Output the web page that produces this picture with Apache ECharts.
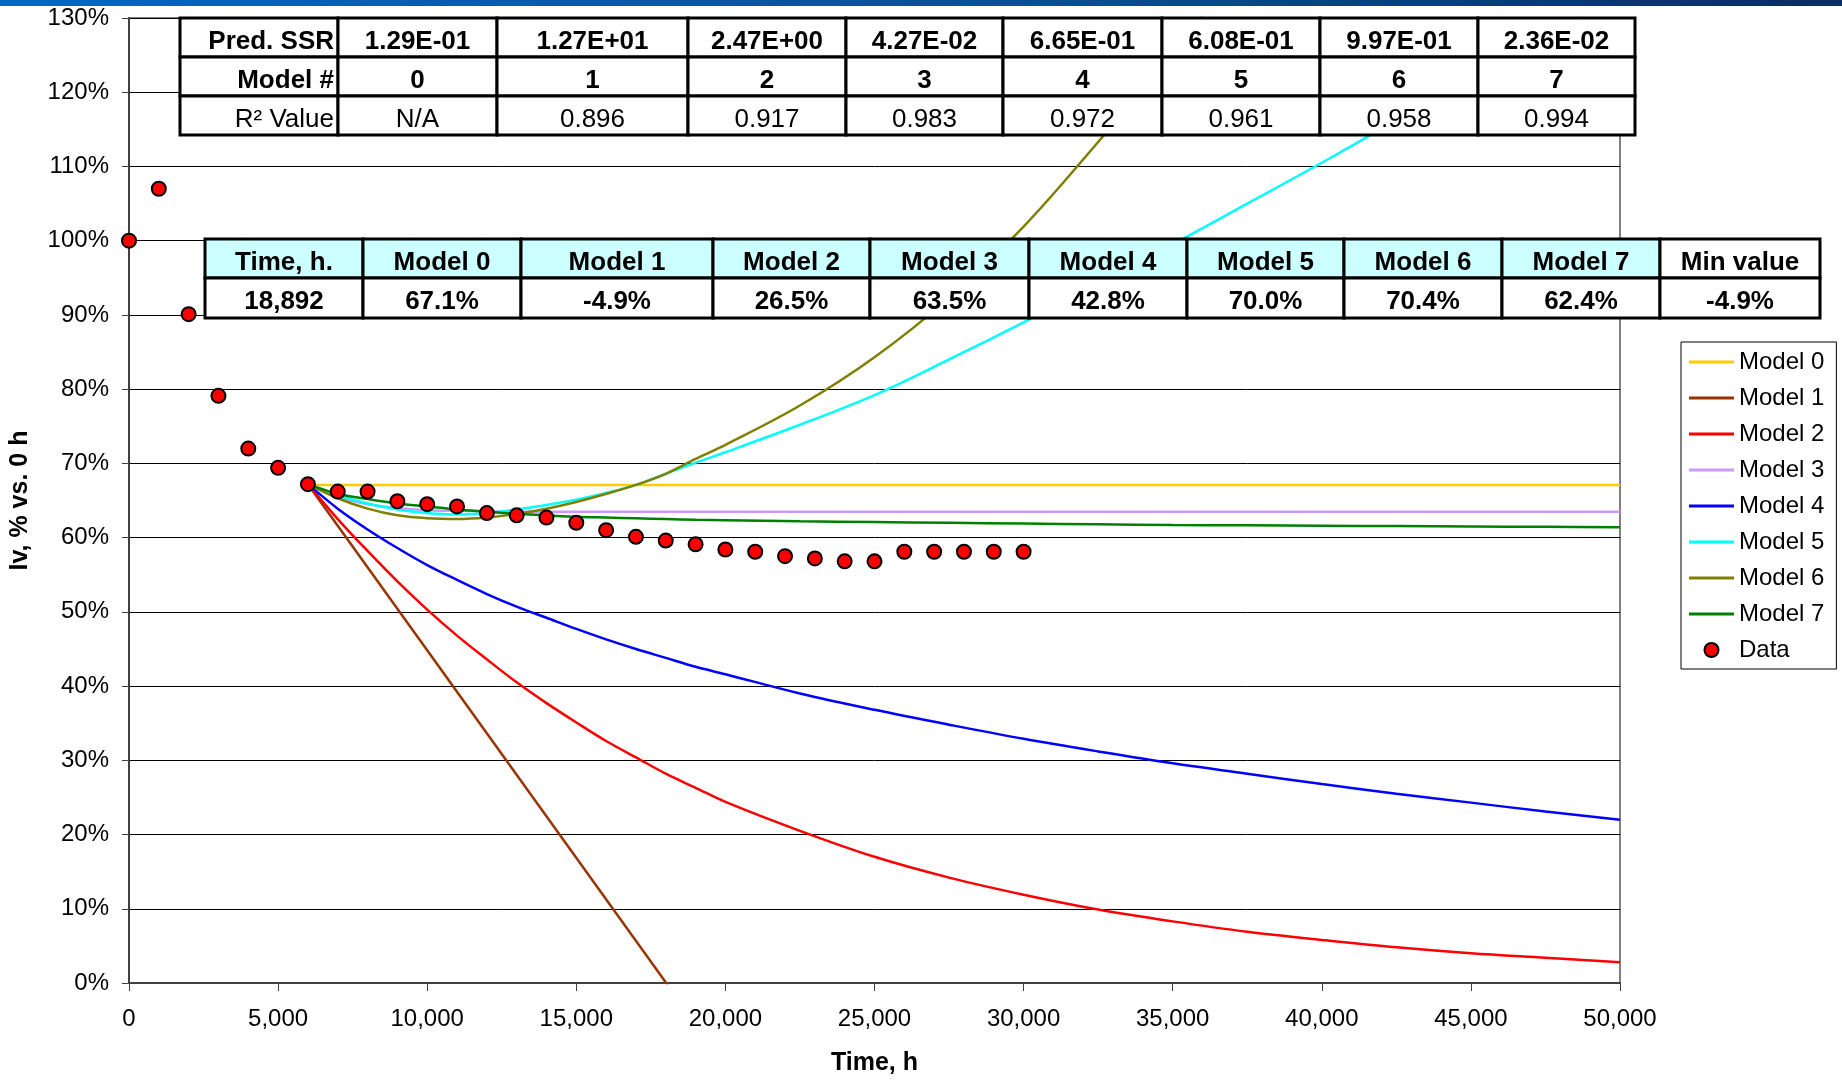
<!DOCTYPE html>
<html>
<head>
<meta charset="utf-8">
<script src="https://cdn.jsdelivr.net/npm/echarts@6/dist/echarts.min.js"></script>
<style>html,body{margin:0;padding:0;background:#fff}#c{width:1842px;height:1081px}</style>
</head>
<body>
<div id="c"></div>
<script>
// ---------- DATA ----------
const dataTimes = [0,1000,2000,3000,4000,5000,6000,7000,8000,9000,10000,11000,12000,13000,14000,15000,16000,17000,18000,19000,20000,21000,22000,23000,24000,25000,26000,27000,28000,29000,30000];
const dataValues = [100,107,90.1,79.1,72.0,69.4,67.2,66.2,66.2,64.9,64.5,64.2,63.3,63.0,62.7,62.0,61.0,60.1,59.6,59.1,58.4,58.1,57.5,57.2,56.8,56.8,58.1,58.1,58.1,58.1,58.1];

const modelTimes = [6000,7000,8000,9000,10000,11000,12000,13000,14000,15000,16000,17000,18000,19000,20000,22500,25000,27500,30000,32500,35000,37500,40000,42500,45000,47500,50000];
const model0Times = [6000, 50000];
const model0 = [67.1, 67.1];
const model1Times = [6000, 18892];
const model1 = [67.2, -4.9];
const model2 = [67.2,62.5,58.2,54.1,50.3,46.8,43.6,40.5,37.7,35.1,32.6,30.4,28.2,26.3,24.4,20.5,17.0,14.2,11.9,9.9,8.3,6.9,5.8,4.8,4.0,3.4,2.8];
const model3 = [67.2,65.5,64.5,64.0,63.7,63.6,63.55,63.5,63.5,63.5,63.5,63.5,63.5,63.5,63.5,63.5,63.5,63.5,63.5,63.5,63.5,63.5,63.5,63.5,63.5,63.5,63.5];
const model4 = [67.2,63.9,61.1,58.6,56.3,54.3,52.4,50.7,49.2,47.7,46.3,45.0,43.8,42.6,41.6,39.0,36.8,34.8,32.9,31.2,29.6,28.2,26.8,25.5,24.3,23.1,22.0];
const model5 = [67.2,65.7,64.6,63.8,63.3,63.1,63.3,63.8,64.4,65.1,66.0,67.1,68.6,70.1,71.5,75.2,79.2,84.0,89.0,94.2,99.5,105.0,110.5,116.2,121.9,127.7,133.6];
const model6 = [67.2,65.3,63.9,63.0,62.6,62.5,62.7,63.2,63.9,64.8,65.9,67.1,68.6,70.6,72.5,77.8,84.3,92.3,101.9,113.3,125.3,138.5,153.0,null,null,null,null];
const model7 = [67.2,65.9,65.2,64.6,64.2,63.8,63.5,63.2,63.0,62.8,62.7,62.6,62.5,62.4,62.35,62.2,62.1,62.0,61.9,61.8,61.7,61.65,61.6,61.55,61.5,61.45,61.4];

const seriesNames = ['Model 0','Model 1','Model 2','Model 3','Model 4','Model 5','Model 6','Model 7','Data'];

const topTable = [
  ['Pred. SSR','1.29E-01','1.27E+01','2.47E+00','4.27E-02','6.65E-01','6.08E-01','9.97E-01','2.36E-02'],
  ['Model #','0','1','2','3','4','5','6','7'],
  ['R² Value','N/A','0.896','0.917','0.983','0.972','0.961','0.958','0.994']
];
const minTableHead = ['Time, h.','Model 0','Model 1','Model 2','Model 3','Model 4','Model 5','Model 6','Model 7','Min value'];
const minTableVals = ['18,892','67.1%','-4.9%','26.5%','63.5%','42.8%','70.0%','70.4%','62.4%','-4.9%'];

// ---------- LAYOUT / STYLE ----------
const FONT = "'Liberation Sans', Arial, sans-serif";
const colors = ['#ffcc00','#993300','#ff0000','#cc99ff','#0000ff','#00ffff','#808000','#008000'];
const topColX = [180,338,497,688,846,1003,1162,1320,1478,1635];
const topRowY = [18,57,96,135];
const minColX = [205,363,521,713,870,1029,1187,1344,1502,1660,1820];
const minRowY = [239,278,318];

function zip(xs, ys){ return xs.map((x,i)=>[x, ys[i]]); }

const modelData = [
  zip(model0Times, model0), zip(model1Times, model1), zip(modelTimes, model2), zip(modelTimes, model3),
  zip(modelTimes, model4), zip(modelTimes, model5), zip(modelTimes, model6), zip(modelTimes, model7)
];

const series = modelData.map((d,i)=>({
  name: seriesNames[i], type:'line', data:d, symbol:'none', smooth:0.35,
  lineStyle:{color:colors[i], width:2.5}, itemStyle:{color:colors[i]}, clip:true, z:2
}));
series.push({
  name:'Data', type:'scatter', data: zip(dataTimes, dataValues), symbol:'circle', symbolSize:14,
  itemStyle:{color:'#ff0000', borderColor:'#000', borderWidth:2, opacity:1}, z:5
});

const legendData = seriesNames.map((n,i)=> i<8 ? {name:n, icon:'path://M0,0H45V3H0Z'} : {name:n, icon:'circle'});

const graphics = [];
graphics.push({type:'rect', z:200, shape:{x:0,y:0,width:1842,height:6},
  style:{fill:new echarts.graphic.LinearGradient(0,0,1,0,[{offset:0,color:'#0068c8'},{offset:0.55,color:'#0a4f9a'},{offset:1,color:'#0b2d5f'}])}});

// top table
for (let r=0;r<3;r++){
  for (let c=0;c<9;c++){
    const x0=topColX[c], x1=topColX[c+1], y0=topRowY[r], y1=topRowY[r+1];
    graphics.push({type:'rect', z:100, shape:{x:x0,y:y0,width:x1-x0,height:y1-y0},
      style:{fill:'#ffffff', stroke:'#000', lineWidth:3}});
    const bold = r<2;
    graphics.push({type:'text', z:101,
      x: c===0 ? x1-4 : (x0+x1)/2, y:(y0+y1)/2+4,
      style:{text:topTable[r][c], fontFamily:FONT, fontSize:26, fontWeight: bold?'bold':'normal',
        fill:'#000', align: c===0?'right':'center', verticalAlign:'middle'}});
  }
}
// min table
for (let r=0;r<2;r++){
  for (let c=0;c<10;c++){
    const x0=minColX[c], x1=minColX[c+1], y0=minRowY[r], y1=minRowY[r+1];
    const fill = (r===0 && c<9) ? '#ccffff' : '#ffffff';
    graphics.push({type:'rect', z:100, shape:{x:x0,y:y0,width:x1-x0,height:y1-y0},
      style:{fill:fill, stroke:'#000', lineWidth:3}});
    graphics.push({type:'text', z:101, x:(x0+x1)/2, y:(y0+y1)/2+4,
      style:{text: r===0?minTableHead[c]:minTableVals[c], fontFamily:FONT, fontSize:26, fontWeight:'bold',
        fill:'#000', align:'center', verticalAlign:'middle'}});
  }
}

const chart = echarts.init(document.getElementById('c'), null, {renderer:'canvas'});
chart.setOption({
  animation:false,
  backgroundColor:'#ffffff',
  textStyle:{fontFamily:FONT},
  grid:{left:128, right:222, top:18, bottom:89, show:true, borderColor:'#808080', borderWidth:2, backgroundColor:'transparent'},
  xAxis:{
    type:'value', min:0, max:50000, interval:5000,
    name:'Time, h', nameLocation:'middle', nameGap:68,
    nameTextStyle:{fontFamily:FONT, fontSize:25, fontWeight:'bold', color:'#000'},
    axisLine:{show:true, onZero:false, lineStyle:{color:'#404040', width:2}},
    axisTick:{show:true, length:8, lineStyle:{color:'#404040', width:1}},
    axisLabel:{fontFamily:FONT, fontSize:24, color:'#000', margin:24,
      formatter:v=>Number(v).toLocaleString('en-US')},
    splitLine:{show:false}
  },
  yAxis:{
    type:'value', min:0, max:130, interval:10,
    name:'Iv, % vs. 0 h', nameLocation:'middle', nameGap:96, nameRotate:90,
    nameTextStyle:{fontFamily:FONT, fontSize:25, fontWeight:'bold', color:'#000'},
    axisLine:{show:true, lineStyle:{color:'#404040', width:2}},
    axisTick:{show:true, length:7, lineStyle:{color:'#404040', width:1}},
    axisLabel:{fontFamily:FONT, fontSize:24, color:'#000', margin:20, formatter:'{value}%'},
    splitLine:{show:true, lineStyle:{color:'#000', width:1}}
  },
  legend:{
    orient:'vertical', left:1681, top:342, data:legendData,
    itemWidth:45, itemHeight:14, itemGap:12,
    padding:[8,12,7,8], backgroundColor:'#fff', borderColor:'#000', borderWidth:1,
    textStyle:{fontFamily:FONT, fontSize:24, color:'#000', lineHeight:22},
    selectedMode:false, z:50
  },
  series: series,
  graphic: graphics
});
</script>
</body>
</html>
